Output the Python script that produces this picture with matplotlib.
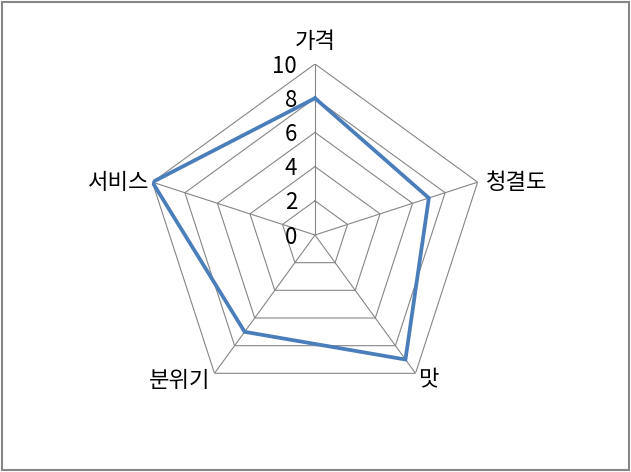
import numpy as np
import matplotlib
matplotlib.use("Agg")
import matplotlib.pyplot as plt
from matplotlib.patches import Rectangle

plt.rcParams['font.family'] = ['Noto Sans CJK KR', 'DejaVu Sans']

categories = ['가격', '청결도', '맛', '분위기', '서비스']
values = [8, 7, 9, 7, 10]
ticks = [0, 2, 4, 6, 8, 10]
tick_labels = ['0', '2', '4', '6', '8', '10']

W, H = 631, 472
fig = plt.figure(figsize=(W / 100, H / 100), dpi=100)
fig.patch.set_facecolor('white')

cx, cy, R = 315, 235, 171
ax = fig.add_axes([(cx - R) / W, (H - cy - R) / H, 2 * R / W, 2 * R / H], projection='polar')
ax.set_theta_offset(np.pi / 2)
ax.set_theta_direction(-1)
ax.set_ylim(0, 10)
ax.grid(False)
ax.spines['polar'].set_visible(False)
ax.set_xticks([])
ax.set_yticks([])
ax.patch.set_alpha(0)

n = len(categories)
theta = np.arange(n) * 2 * np.pi / n
theta_c = np.append(theta, theta[0])

grid_color = '#868686'
for t in ticks[1:]:
    ax.plot(theta_c, [t] * (n + 1), color=grid_color, lw=0.8, zorder=1)
for th in theta:
    ax.plot([th, th], [0, ticks[-1]], color=grid_color, lw=0.8, zorder=1)

vals_c = values + values[:1]
ax.plot(theta_c, vals_c, color='#4A7EBB', lw=2.7, zorder=3, solid_joinstyle='miter')

for t, lab in zip(ticks, tick_labels):
    ax.annotate(lab, xy=(0, t), xytext=(-18, -2), textcoords='offset pixels',
                ha='right', va='center', fontsize=16, color='black')

offsets = [((0, 23), 'center', 'center'),
           ((8, 0), 'left', 'center'),
           ((3, -7), 'left', 'center'),
           ((-4, -7), 'right', 'center'),
           ((-3, 0), 'right', 'center')]
for th, cat, (off, ha, va) in zip(theta, categories, offsets):
    ax.annotate(cat, xy=(th, ticks[-1]), xytext=off, textcoords='offset pixels',
                ha=ha, va=va, fontsize=16, color='black')

fig.patches.append(Rectangle((1.5 / W, 1 - 469.5 / H), 627 / W, 468 / H,
                             transform=fig.transFigure, fill=False,
                             edgecolor='#878787', lw=1.5))

fig.savefig('out.png', dpi=100)
